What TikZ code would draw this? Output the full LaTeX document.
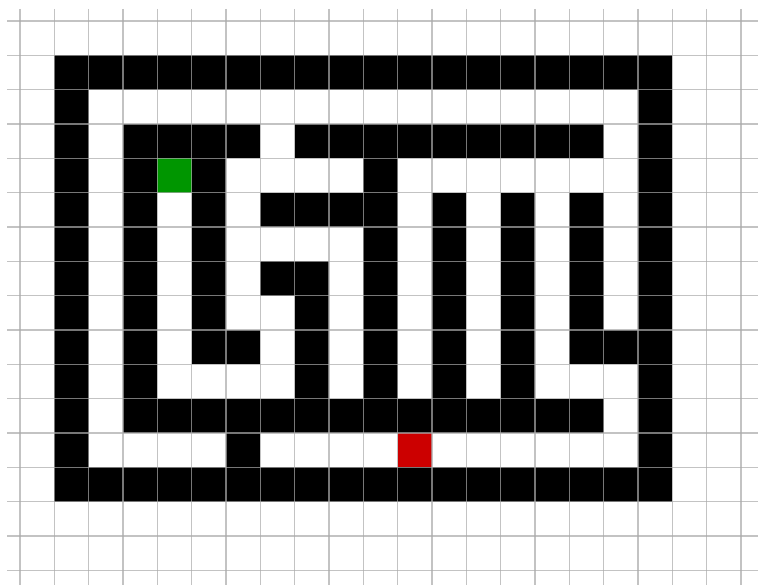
\documentclass[tikz,border=0pt]{standalone}
\definecolor{startgreen}{RGB}{0,150,0}
\definecolor{goalred}{RGB}{204,0,0}
\definecolor{gridgray}{RGB}{170,170,170}
\tikzset{
  gridline/.style={draw=gridgray, opacity=0.7, line width=1.2pt},
  wall/.style={fill=black},
}
\newcommand\blk[4]{\fill[wall] ({20+34.33*#1},{21+34.33*#2}) rectangle ({20+34.33*(#3+1)},{21+34.33*(#4+1)});}
\newcommand\onecell[3]{\fill[#3] ({20+34.33*#1},{21+34.33*#2}) rectangle ({20+34.33*(#1+1)},{21+34.33*(#2+1)});}
\begin{document}
\begin{tikzpicture}[x=1pt,y=-1pt]
\useasboundingbox (0,0) rectangle (758,585);
\fill[white] (0,0) rectangle (758,585);
% outer walls
\blk{1}{1}{18}{1}
\blk{1}{13}{18}{13}
\blk{1}{1}{1}{13}
\blk{18}{1}{18}{13}
% inner walls
\blk{3}{3}{6}{3}
\blk{8}{3}{16}{3}
\blk{3}{3}{3}{11}
\blk{5}{3}{5}{9}
\blk{6}{9}{6}{9}
\blk{7}{5}{10}{5}
\blk{10}{3}{10}{11}
\blk{7}{7}{8}{7}
\blk{8}{7}{8}{11}
\blk{12}{5}{12}{11}
\blk{14}{5}{14}{11}
\blk{16}{5}{16}{9}
\blk{17}{9}{17}{9}
\blk{3}{11}{16}{11}
\blk{6}{12}{6}{12}
% start and goal
\onecell{4}{4}{startgreen}
\onecell{11}{12}{goalred}
% grid
\foreach \k in {0,...,21} \draw[gridline] ({20+34.33*\k},9) -- ({20+34.33*\k},585);
\foreach \k in {0,...,16} \draw[gridline] (7,{21+34.33*\k}) -- (758,{21+34.33*\k});
\end{tikzpicture}
\end{document}
